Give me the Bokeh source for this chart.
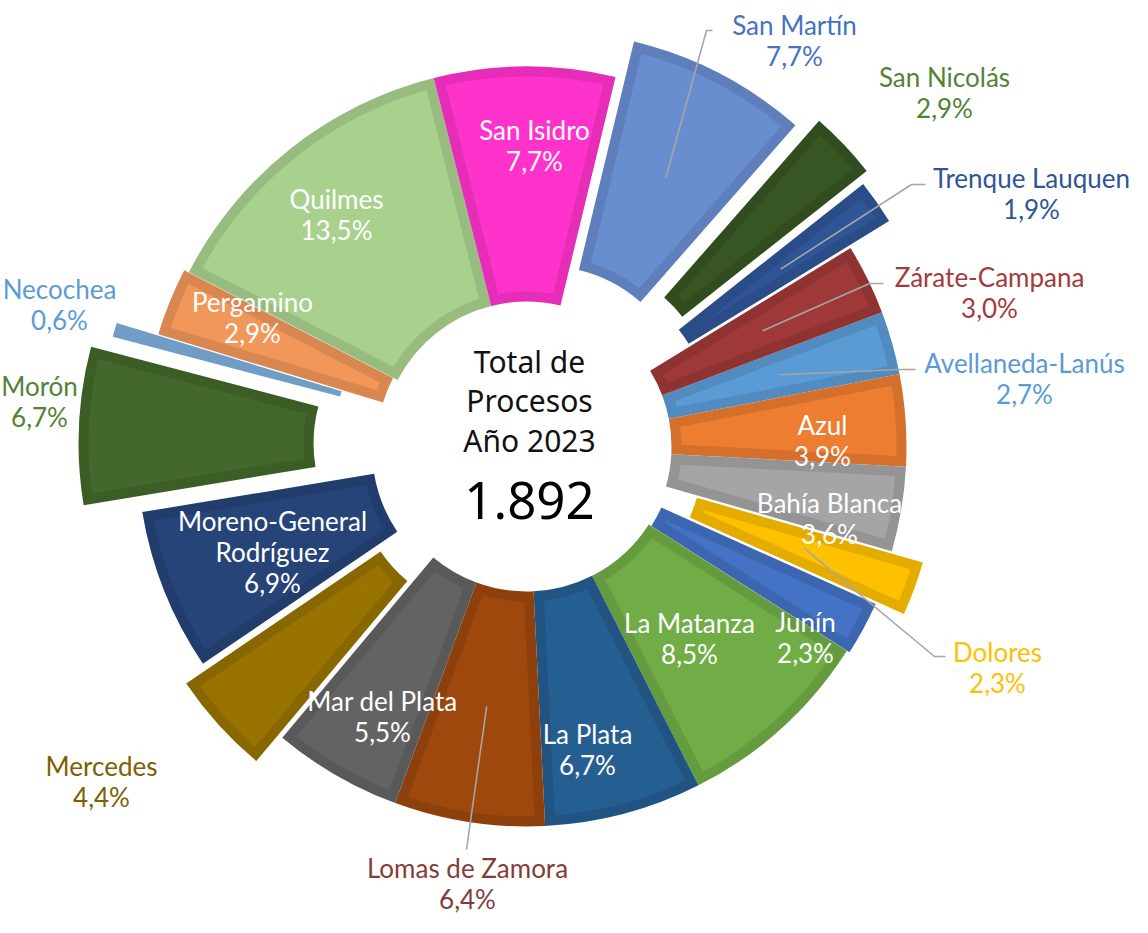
import math
from bokeh.plotting import figure
from bokeh.models import Range1d
from bokeh.core.properties import value
from bokeh.embed import file_html
from bokeh.resources import INLINE

# ---------------- data ----------------
categories = ["Avellaneda-Lanús", "Azul", "Bahía Blanca", "Dolores", "Junín",
              "La Matanza", "La Plata", "Lomas de Zamora", "Mar del Plata", "Mercedes",
              "Moreno-General Rodríguez", "Morón", "Necochea", "Pergamino", "Quilmes",
              "San Isidro", "San Martín", "San Nicolás", "Trenque Lauquen", "Zárate-Campana"]
shares = [2.7, 3.9, 3.6, 2.3, 2.3, 8.5, 6.7, 6.4, 5.5, 4.4,
          6.9, 6.7, 0.6, 2.9, 13.5, 7.7, 7.7, 2.9, 1.9, 3.0]
center_title = ["Total de", "Procesos", "Año 2023"]
total_procesos = 1892

# ---------------- styles / layout ----------------
fills = ["#5B9BD5", "#ED7D31", "#A5A5A5", "#FFC000", "#4472C4",
         "#70AD47", "#255E91", "#9E480E", "#636363", "#997300",
         "#264478", "#43682B", "#7CAFDD", "#F1975A", "#A9D18E",
         "#FF33CC", "#698ED0", "#375623", "#2F5597", "#9F3838"]
explode = [0, 0, 0, 33, 3, 0, 0, 0, 0, 35,
           10, 68, 48, 5, 0, 0, 40, 58, 47, 0]
# label placement: centre (cap-height centre) of the text block, reference pixel coords
label_pos = {
    "San Isidro": (545, 148), "Quilmes": (347, 217), "Pergamino": (263, 320),
    "Azul": (833, 443), "Bahía Blanca": (840, 521), "La Matanza": (700, 641),
    "Junín": (816, 640), "La Plata": (598, 752), "Mar del Plata": (393, 719),
    "Moreno-General Rodríguez": (283, 555),
    "San Martín": (805, 43), "San Nicolás": (955, 95), "Trenque Lauquen": (1042, 196),
    "Zárate-Campana": (1000, 295), "Avellaneda-Lanús": (1035, 381), "Dolores": (1008, 670),
    "Lomas de Zamora": (478, 886), "Mercedes": (112, 784), "Morón": (50, 404),
    "Necochea": (70, 307),
}
outside_color = {
    "San Martín": "#4472C4", "San Nicolás": "#548235", "Trenque Lauquen": "#2F5597",
    "Zárate-Campana": "#A33B3B", "Avellaneda-Lanús": "#5B9BD5", "Dolores": "#FFC000",
    "Lomas de Zamora": "#843C39", "Mercedes": "#806000", "Morón": "#548235",
    "Necochea": "#5B9BD5",
}
leader_elbows = {
    "San Martín": [(717, 42), (723, 42)],
    "Trenque Lauquen": [(922, 196), (936, 196)],
    "Zárate-Campana": [(880, 295), (894, 295)],
    "Avellaneda-Lanús": [(910, 381), (926, 381)],
    "Dolores": [(945, 668), (956, 668)],
    "Lomas de Zamora": [(477, 861)],
}
line_breaks = {"Moreno-General Rodríguez": ["Moreno-General", "Rodríguez"]}

H_REF = 933
def up(y):
    return H_REF - y

CX, CY = 537, up(458)
R_OUT, R_IN, BORDER = 380, 145, 10
START_CW = 69.3
LEADER_R = 263
LABEL_FS, LABEL_SP = 26, 31
TITLE_FS, TITLE_SP = 30, 39.5
TOTAL_FS = 51
CAP_HALF = 0.34  # ~half cap-height / font size


def darken(hexcol, f=0.9):
    h = hexcol.lstrip("#")
    r, g, b = (int(h[i:i + 2], 16) for i in (0, 2, 4))
    return "#%02X%02X%02X" % (int(r * f), int(g * f), int(b * f))


def pct(v):
    return ("%.1f" % v).replace(".", ",") + "%"


def fmt_total(n):
    return "{:,}".format(n).replace(",", ".")


# ---------------- geometry ----------------
tot = sum(shares)
cum = 0.0
wx, wy, sa, ea, outer_cols = [], [], [], [], []
inner_xs, inner_ys, inner_cols = [], [], []
mids = {}
for cat, s, col, e in zip(categories, shares, fills, explode):
    t0 = START_CW + 360.0 * cum / tot
    cum += s
    t1 = START_CW + 360.0 * cum / tot
    tm = math.radians((t0 + t1) / 2)
    ox, oy = e * math.sin(tm), e * math.cos(tm)
    cx, cy = CX + ox, CY + oy
    lo, hi = math.radians(90 - t1), math.radians(90 - t0)
    wx.append(cx); wy.append(cy); sa.append(lo); ea.append(hi)
    outer_cols.append(darken(col))
    mids[cat] = (cx + LEADER_R * math.sin(tm), cy + LEADER_R * math.cos(tm))
    # inner lighter region, inset by BORDER on every side
    half = (hi - lo) / 2
    mid = (hi + lo) / 2
    ro, ri = R_OUT - BORDER, R_IN + BORDER
    if BORDER / ro >= math.sin(half):
        continue
    xs, ys = [], []
    do = math.asin(BORDER / ro)
    n = 60
    for k in range(n + 1):
        a = lo + do + (hi - lo - 2 * do) * k / n
        xs.append(cx + ro * math.cos(a)); ys.append(cy + ro * math.sin(a))
    if BORDER / ri < math.sin(half):
        di = math.asin(BORDER / ri)
        for k in range(n + 1):
            a = hi - di - (hi - lo - 2 * di) * k / n
            xs.append(cx + ri * math.cos(a)); ys.append(cy + ri * math.sin(a))
    else:
        rs = BORDER / math.sin(half)
        xs.append(cx + rs * math.cos(mid)); ys.append(cy + rs * math.sin(mid))
    inner_xs.append(xs); inner_ys.append(ys); inner_cols.append(col)

# ---------------- figure ----------------
p = figure(width=1132, height=917, x_range=Range1d(11, 1143), y_range=Range1d(up(929), up(12)),
           output_backend="svg", toolbar_location=None, min_border=0, title=None,
           x_axis_location=None, y_axis_location=None)
p.grid.visible = False
p.outline_line_color = None
p.background_fill_color = "white"

p.annular_wedge(x=wx, y=wy, inner_radius=R_IN, outer_radius=R_OUT,
                start_angle=sa, end_angle=ea, fill_color=outer_cols, line_color=None)
p.patches(xs=inner_xs, ys=inner_ys, fill_color=inner_cols, line_color=None)

# leader lines
lxs, lys = [], []
for cat, pts in leader_elbows.items():
    mx, my = mids[cat]
    lxs.append([mx] + [q[0] for q in pts])
    lys.append([my] + [up(q[1]) for q in pts])
p.multi_line(xs=lxs, ys=lys, line_color="#A6A6A6", line_width=1.6)

# labels: one text item per line, placed on the alphabetic baseline
tx, ty, tt, tc = [], [], [], []
for cat, s in zip(categories, shares):
    x, y = label_pos[cat]
    lines = line_breaks.get(cat, [cat]) + [pct(s)]
    nl = len(lines)
    for k, ln in enumerate(lines):
        tx.append(x)
        ty.append(up(y + (k - (nl - 1) / 2) * LABEL_SP + CAP_HALF * LABEL_FS))
        tt.append(ln)
        tc.append(outside_color.get(cat, "#FFFFFF"))
p.text(x=tx, y=ty, text=tt, text_color=tc, text_font=value("Lato"),
       text_font_size=value("%dpx" % LABEL_FS), text_align="center",
       text_baseline="alphabetic")

# center
cy_lines = [up(362.5 + k * TITLE_SP + CAP_HALF * TITLE_FS) for k in range(len(center_title))]
p.text(x=[CX + 3] * len(center_title), y=cy_lines, text=center_title, text_color="#111111",
       text_font=value("Noto Sans"), text_font_size=value("%dpx" % TITLE_FS),
       text_align="center", text_baseline="alphabetic")
p.text(x=[CX + 3], y=[up(494.5 + CAP_HALF * TOTAL_FS)], text=[fmt_total(total_procesos)],
       text_color="#000000", text_font=value("Noto Sans"),
       text_font_size=value("%dpx" % TOTAL_FS), text_align="center",
       text_baseline="alphabetic")

open("out.html", "w").write(file_html(p, INLINE))
